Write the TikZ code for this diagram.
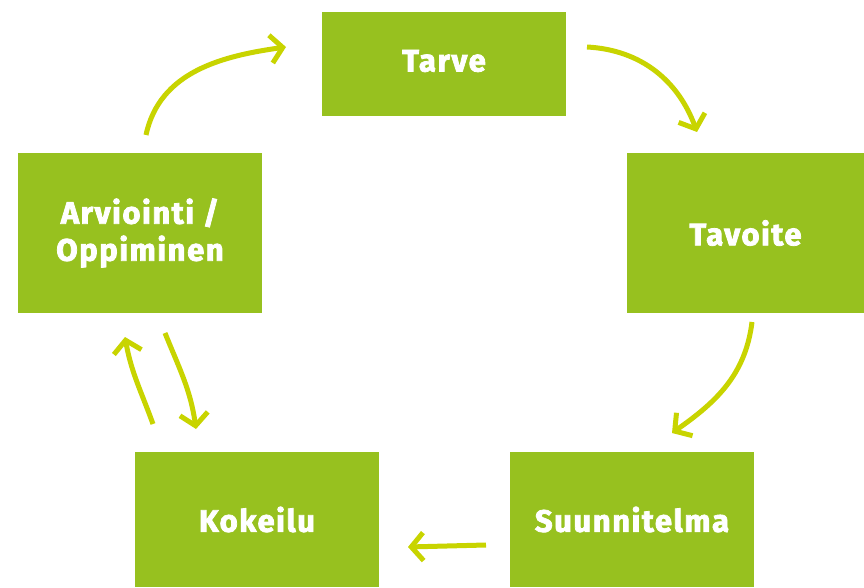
\documentclass[tikz,border=0pt]{standalone}
\usepackage{fontspec}
\setmainfont{Fira Sans}[BoldFeatures={FakeBold=2.5, LetterSpace=5}]
\usetikzlibrary{arrows.meta}
\definecolor{boxgreen}{HTML}{97C11F}
\definecolor{arrowlime}{HTML}{C8D400}
\tikzset{
  stagebox/.style={fill=boxgreen, draw=none, text=white, font=\fontsize{31}{37}\selectfont\bfseries,
    minimum width=244pt, inner sep=0pt, align=center},
  cyclearrow/.style={draw=arrowlime, line width=5pt,
    -{Straight Barb[length=12pt, width=28pt, line width=5pt]}}
}
\begin{document}
\begin{tikzpicture}[x=1pt, y=1pt]
  \useasboundingbox (0,0) rectangle (864,587);

  % stage boxes
  \fill[boxgreen] (322,471) rectangle (566,575);
  \node[stagebox, fill=none] (tarve) at (444,526) {Tarve};
  \node[stagebox, minimum width=237pt, minimum height=160pt] (tavoite) at (745.5,354) {Tavoite};
  \node[stagebox, minimum height=160pt] (arviointi) at (140,354) {Arviointi /\\Oppiminen};
  \node[stagebox, minimum height=135pt] (kokeilu) at (257,67.5) {Kokeilu};
  \node[stagebox, minimum height=135pt] (suunnitelma) at (632,67.5) {Suunnitelma};

  % arrow end points
  \coordinate (a1s) at (146,452);  \coordinate (a1e) at (286,540);
  \coordinate (a2s) at (587,540);  \coordinate (a2e) at (697,455);
  \coordinate (a3s) at (752,265);  \coordinate (a3e) at (672,154);
  \coordinate (a4s) at (486,42);   \coordinate (a4e) at (408,40);
  \coordinate (a5s) at (153,163);  \coordinate (a5e) at (125,250);
  \coordinate (a6s) at (165,254);  \coordinate (a6e) at (196,158);

  % cycle arrows
  \draw[cyclearrow] (a1s) to[out=78, in=188] (a1e);
  \draw[cyclearrow] (a2s) to[out=-3, in=110] (a2e);
  \draw[cyclearrow] (a3s) to[out=-97, in=35] (a3e);
  \draw[cyclearrow] (a4s) -- (a4e);
  \draw[cyclearrow] (a5s) to[out=110, in=-80] (a5e);
  \draw[cyclearrow] (a6s) to[out=-68, in=98] (a6e);
\end{tikzpicture}
\end{document}
